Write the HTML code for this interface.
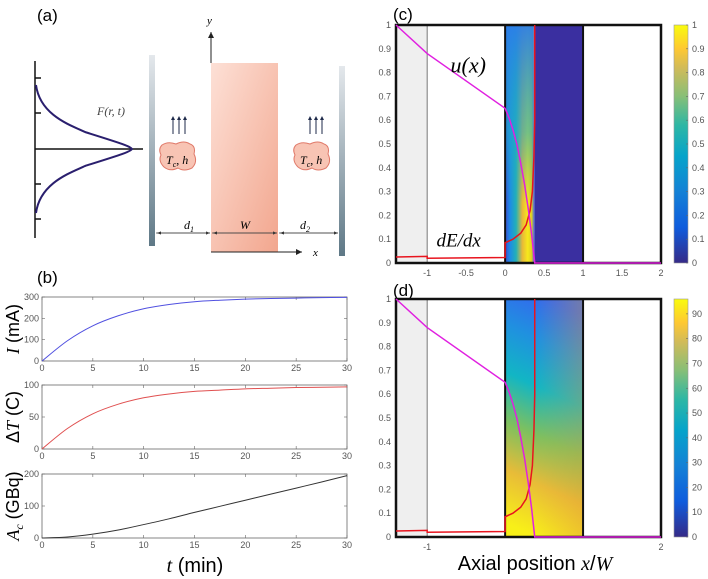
<!DOCTYPE html>
<html><head><meta charset="utf-8"><style>
body{margin:0;background:#fff;width:708px;height:579px;overflow:hidden}
svg{display:block;font-family:"Liberation Sans",sans-serif}
.tk{font-size:9px;fill:#555}
.it{font-family:"Liberation Serif",serif;font-style:italic}
</style></head><body>
<svg id="s" width="708" height="579" viewBox="0 0 708 579" xmlns="http://www.w3.org/2000/svg">
<defs>
<linearGradient id="parula" x1="0" y1="1" x2="0" y2="0">
<stop offset="0" stop-color="#352a87"/><stop offset="0.15" stop-color="#0f5cdd"/><stop offset="0.3" stop-color="#1481d6"/><stop offset="0.45" stop-color="#06a4ca"/><stop offset="0.58" stop-color="#2eb7a4"/><stop offset="0.7" stop-color="#87bf77"/><stop offset="0.82" stop-color="#d1bb59"/><stop offset="0.9" stop-color="#fec832"/><stop offset="1" stop-color="#f9fb0e"/></linearGradient>
<linearGradient id="wall" x1="0" y1="0" x2="0" y2="1"><stop offset="0" stop-color="#e4e8ec"/><stop offset="1" stop-color="#5e7886"/></linearGradient>
<linearGradient id="pink" x1="0" y1="0" x2="1" y2="1"><stop offset="0" stop-color="#fde0d6"/><stop offset="1" stop-color="#f2a68e"/></linearGradient>
<linearGradient id="hc" x1="0" y1="0" x2="1" y2="0"><stop offset="0" stop-color="#3d4ed0"/><stop offset="0.06" stop-color="#1e8ae6"/><stop offset="0.14" stop-color="#22b0b8"/><stop offset="0.22" stop-color="#e8b838"/><stop offset="0.29" stop-color="#f7e81c"/><stop offset="0.34" stop-color="#e0d020"/><stop offset="0.37" stop-color="#5a70d0"/><stop offset="1" stop-color="#3a2fa0"/></linearGradient>
<linearGradient id="hcTop" x1="0" y1="0" x2="0" y2="1"><stop offset="0" stop-color="#2c7ee8" stop-opacity="0.95"/><stop offset="0.45" stop-color="#1ea8c8" stop-opacity="0.6"/><stop offset="0.75" stop-color="#20a8c8" stop-opacity="0"/></linearGradient>
<linearGradient id="hd" x1="0.55" y1="0" x2="0.4" y2="1"><stop offset="0" stop-color="#3468ee"/><stop offset="0.18" stop-color="#2090e0"/><stop offset="0.38" stop-color="#12b6c4"/><stop offset="0.58" stop-color="#7cc060"/><stop offset="0.78" stop-color="#e8bc38"/><stop offset="1" stop-color="#f8f018"/></linearGradient>
<linearGradient id="hdR" x1="0" y1="0" x2="1" y2="0"><stop offset="0.4" stop-color="#f0a838" stop-opacity="0"/><stop offset="1" stop-color="#e8a030" stop-opacity="0.35"/></linearGradient>
<linearGradient id="hdMask" x1="0" y1="0" x2="0" y2="1"><stop offset="0" stop-color="#fff" stop-opacity="0"/><stop offset="0.5" stop-color="#fff" stop-opacity="0"/><stop offset="1" stop-color="#fff" stop-opacity="1"/></linearGradient>
<marker id="ar" markerWidth="8" markerHeight="8" refX="6" refY="3" orient="auto"><path d="M0,0L6,3L0,6z" fill="#222"/></marker>
<marker id="ar2" markerWidth="6" markerHeight="6" refX="5" refY="2" orient="auto"><path d="M0,0L5,2L0,4z" fill="#333"/></marker>
</defs>

<g>
<text x="37" y="21" font-size="17">(a)</text>
<line x1="35" y1="61" x2="35" y2="238" stroke="#111" stroke-width="1.5"/>
<line x1="35" y1="149" x2="143" y2="149" stroke="#111" stroke-width="1.5"/>
<g stroke="#111" stroke-width="1.5"><line x1="35" y1="78" x2="41" y2="78"/><line x1="35" y1="113" x2="41" y2="113"/><line x1="35" y1="184" x2="41" y2="184"/><line x1="35" y1="219" x2="41" y2="219"/></g>
<path d="M36,85 C40,115 70,125 85,132 C120,143 130,146 132,149 C130,152 120,155 85,166 C70,173 40,183 36,213" fill="none" stroke="#2a1f6e" stroke-width="2"/>
<text x="97" y="115" font-size="12" fill="#444" class="it">F(r, t)</text>
<rect x="149" y="55" width="6" height="191" fill="url(#wall)"/>
<rect x="339" y="66" width="6" height="190" fill="url(#wall)"/>
<rect x="211" y="63" width="67" height="189" fill="url(#pink)"/>
<line x1="211" y1="63" x2="211" y2="32" stroke="#222" marker-end="url(#ar)"/>
<text x="207" y="24" font-size="11" class="it">y</text>
<line x1="211" y1="252" x2="302" y2="252" stroke="#222" marker-end="url(#ar)"/>
<text x="313" y="256" font-size="11" class="it">x</text>
<g fill="#1e2a4a"><path d="M173,134V118" stroke="#1e2a4a"/><path d="M179,134V118" stroke="#1e2a4a"/><path d="M185,134V118" stroke="#1e2a4a"/><path d="M171,120l2,-4l2,4z M177,120l2,-4l2,4z M183,120l2,-4l2,4z"/>
<path d="M310,134V118" stroke="#1e2a4a"/><path d="M316,134V118" stroke="#1e2a4a"/><path d="M322,134V118" stroke="#1e2a4a"/><path d="M308,120l2,-4l2,4z M314,120l2,-4l2,4z M320,120l2,-4l2,4z"/></g>
<path d="M162,145 q6,-4 14,-1 q8,-4 14,0 q6,2 4,10 q4,8 -2,14 q-8,4 -14,0 q-8,4 -14,-1 q-6,-6 -3,-12 q-3,-6 1,-10z" fill="#f8c4b4" stroke="#e07a6a"/>
<text x="166" y="164" font-size="12" class="it">T<tspan font-size="8" dy="3">c</tspan><tspan dy="-3">, h</tspan></text>
<path d="M296,145 q6,-4 14,-1 q8,-4 14,0 q6,2 4,10 q4,8 -2,14 q-8,4 -14,0 q-8,4 -14,-1 q-6,-6 -3,-12 q-3,-6 1,-10z" fill="#f8c4b4" stroke="#e07a6a"/>
<text x="300" y="164" font-size="12" class="it">T<tspan font-size="8" dy="3">c</tspan><tspan dy="-3">, h</tspan></text>
<g stroke="#444" stroke-width="0.8"><line x1="156" y1="233" x2="210" y2="233" marker-end="url(#ar2)"/><line x1="210" y1="233" x2="157" y2="233" marker-end="url(#ar2)"/>
<line x1="212" y1="233" x2="277" y2="233" marker-end="url(#ar2)"/><line x1="277" y1="233" x2="213" y2="233" marker-end="url(#ar2)"/>
<line x1="279" y1="233" x2="338" y2="233" marker-end="url(#ar2)"/><line x1="338" y1="233" x2="280" y2="233" marker-end="url(#ar2)"/></g>
<text x="184" y="229" font-size="12" class="it">d<tspan font-size="8" dy="3">1</tspan></text>
<text x="240" y="229" font-size="12" class="it">W</text>
<text x="300" y="229" font-size="12" class="it">d<tspan font-size="8" dy="3">2</tspan></text>
</g>

<text x="37" y="283" font-size="17">(b)</text>
<text x="393" y="20" font-size="17">(c)</text>
<text x="393" y="296" font-size="17">(d)</text>

<g id="gb"></g><g id="gc"></g><g id="gd"></g>

<text x="195" y="572" font-size="20" text-anchor="middle"><tspan class="it">t</tspan> (min)</text>
<text x="535" y="570" font-size="20" text-anchor="middle">Axial position <tspan class="it">x</tspan>/<tspan class="it">W</tspan></text>
</svg>
<script>
const NS="http://www.w3.org/2000/svg";
const tVals=[0,2.5,5,7.5,10,12.5,15,17.5,20,22.5,25,27.5,30];
const currentVals=[0,95,165,212,245,265,278,285,290,293,295,297,298];
const deltaTVals=[0,32,55,70,80,86,90,92,94,95,96,96.5,97];
const activityVals=[0,3,12,25,42,60,80,99,118,137,156,175,195];
const tTicks=[0,5,10,15,20,25,30];
const iTicks=[0,100,200,300];
const dtTicks=[0,50,100];
const acTicks=[0,100,200];
const uX=[-1.4,-1,0,0.05,0.1,0.15,0.2,0.25,0.3,0.34,0.38,2];
const uY=[1,0.88,0.65,0.61,0.56,0.5,0.42,0.33,0.22,0.12,0,0];
const dedxX=[-1.4,-1,-1,0,0,0.1,0.2,0.27,0.32,0.35,0.37,0.38,0.38];
const dedxY=[0.025,0.028,0.02,0.023,0.085,0.1,0.125,0.16,0.22,0.3,0.45,0.6,1];
const xTicksC=[-1,-0.5,0,0.5,1,1.5,2];
const xTicksD=[-1,2];
const yTicks=[0,0.1,0.2,0.3,0.4,0.5,0.6,0.7,0.8,0.9,1];
const cbTicksC=[0,0.1,0.2,0.3,0.4,0.5,0.6,0.7,0.8,0.9,1];
const cbTicksD=[0,10,20,30,40,50,60,70,80,90];
const cbMaxD=96;

function el(p,tag,attrs){const e=document.createElementNS(NS,tag);for(const k in attrs)e.setAttribute(k,attrs[k]);p.appendChild(e);return e;}
function fmt(v){return String(Math.round(v*100)/100);}
function smooth(pts){let d='M'+pts[0][0]+','+pts[0][1];
  for(let i=0;i<pts.length-1;i++){const p0=pts[Math.max(0,i-1)],p1=pts[i],p2=pts[i+1],p3=pts[Math.min(pts.length-1,i+2)];
    d+=' C'+(p1[0]+(p2[0]-p0[0])/6)+','+(p1[1]+(p2[1]-p0[1])/6)+' '+(p2[0]-(p3[0]-p1[0])/6)+','+(p2[1]-(p3[1]-p1[1])/6)+' '+p2[0]+','+p2[1];}
  return d;}

function smallPlot(g,top,bot,ys,yt,ymax,color,label,name){
  const L=42,R=347,sx=t=>L+(t/30)*(R-L),sy=v=>bot-(v/ymax)*(bot-top);
  const grp=el(g,'g',{});
  
  
  el(grp,'rect',{x:L,y:top,width:R-L,height:bot-top,fill:'#fff',stroke:'#666','stroke-width':0.8});
  tTicks.forEach(t=>{el(grp,'line',{x1:sx(t),x2:sx(t),y1:bot,y2:bot-3,stroke:'#666','stroke-width':0.6});el(grp,'line',{x1:sx(t),x2:sx(t),y1:top,y2:top+3,stroke:'#666','stroke-width':0.6});
    const tx=el(grp,'text',{x:sx(t),y:bot+10,'text-anchor':'middle',class:'tk'});tx.textContent=t;});
  yt.forEach(v=>{el(grp,'line',{x1:L,x2:L+3,y1:sy(v),y2:sy(v),stroke:'#666','stroke-width':0.6});el(grp,'line',{x1:R,x2:R-3,y1:sy(v),y2:sy(v),stroke:'#666','stroke-width':0.6});
    const tx=el(grp,'text',{x:L-3,y:sy(v)+3,'text-anchor':'end',class:'tk'});tx.textContent=v;});
  const line=el(grp,'path',{d:smooth(tVals.map((t,i)=>[sx(t),sy(ys[i])])),fill:'none',stroke:color,'stroke-width':1});
  
  
  const cy=(top+bot)/2;
  const lt=el(grp,'text',{x:0,y:0,'font-size':18,'text-anchor':'middle',transform:`translate(19,${cy}) rotate(-90)`});
  lt.innerHTML=label;
  
  
}
const gb=document.getElementById('gb');
smallPlot(gb,297,361,currentVals,iTicks,300,'#5050e0','<tspan class="it">I</tspan> (mA)','current-plot');
smallPlot(gb,385,449,deltaTVals,dtTicks,100,'#e05050','Δ<tspan class="it">T</tspan> (C)','temperature-plot');
smallPlot(gb,474,538,activityVals,acTicks,200,'#333','<tspan class="it">A</tspan><tspan font-size="12" dy="4" class="it">c</tspan><tspan dy="-4"> (GBq)</tspan>','activity-plot');

function bigPlot(g,top,bot,heatFill,overlay,xt,cbt,cbmax,name,labels){
  const L=396,R=661,sx=x=>L+(x+1.4)/3.4*(R-L),sy=v=>bot-v*(bot-top);
  const grp=el(g,'g',{});
  
  
  el(grp,'rect',{x:L,y:top,width:sx(-1)-L,height:bot-top,fill:'#efefef'});
  const hm=el(grp,'rect',{x:sx(0),y:top,width:sx(1)-sx(0),height:bot-top,fill:heatFill});
  
  
  overlay.forEach(o=>el(grp,'rect',{x:sx(o[0]),y:top,width:sx(o[1])-sx(o[0]),height:bot-top,fill:o[2]}));
  el(grp,'line',{x1:sx(-1),x2:sx(-1),y1:top,y2:bot,stroke:'#777','stroke-width':1});
  el(grp,'line',{x1:sx(0),x2:sx(0),y1:top,y2:bot,stroke:'#111','stroke-width':2});
  el(grp,'line',{x1:sx(1),x2:sx(1),y1:top,y2:bot,stroke:'#111','stroke-width':2});
  el(grp,'rect',{x:L,y:top,width:R-L,height:bot-top,fill:'none',stroke:'#111','stroke-width':2.5});
  yTicks.forEach(v=>{const t=el(grp,'text',{x:L-5,y:sy(v)+3,'text-anchor':'end',class:'tk'});t.textContent=fmt(v);});
  xt.forEach(v=>{const t=el(grp,'text',{x:sx(v),y:bot+13,'text-anchor':'middle',class:'tk'});t.textContent=fmt(v);});
  const d=el(grp,'polyline',{points:dedxX.map((x,i)=>sx(x)+','+sy(dedxY[i])).join(' '),fill:'none',stroke:'#e8141e','stroke-width':1.5});
  
  
  const u=el(grp,'polyline',{points:uX.map((x,i)=>sx(x)+','+sy(uY[i])).join(' '),fill:'none',stroke:'#e020e0','stroke-width':1.5});
  
  
  if(labels){
    const a=el(grp,'text',{x:sx(-0.7),y:sy(0.8),'font-size':22,class:'it'});a.textContent='u(x)';
    
    
    const b=el(grp,'text',{x:sx(-0.88),y:sy(0.07),'font-size':19,class:'it'});b.textContent='dE/dx';
    
    
  }
  const cb=el(grp,'rect',{x:674,y:top,width:14,height:bot-top,fill:'url(#parula)',stroke:'#999','stroke-width':0.6});
  
  
  cbt.forEach(v=>{const y=bot-(v/cbmax)*(bot-top);el(grp,'line',{x1:686,x2:688,y1:y,y2:y,stroke:'#666','stroke-width':0.6});
    const t=el(grp,'text',{x:692,y:y+3,class:'tk','font-size':8});t.textContent=fmt(v);});
}
const gc=document.getElementById('gc');
bigPlot(gc,25,263,'url(#hc)',[[0,0.36,'url(#hcTop)'],[0.38,1,'#3a2fa0']],xTicksC,cbTicksC,1,'energy-plot',true);
const gd=document.getElementById('gd');
bigPlot(gd,299,537,'url(#hd)',[[0,1,'url(#hdR)']],xTicksD,cbTicksD,cbMaxD,'temperature-map-plot',false);
</script>
</body></html>
